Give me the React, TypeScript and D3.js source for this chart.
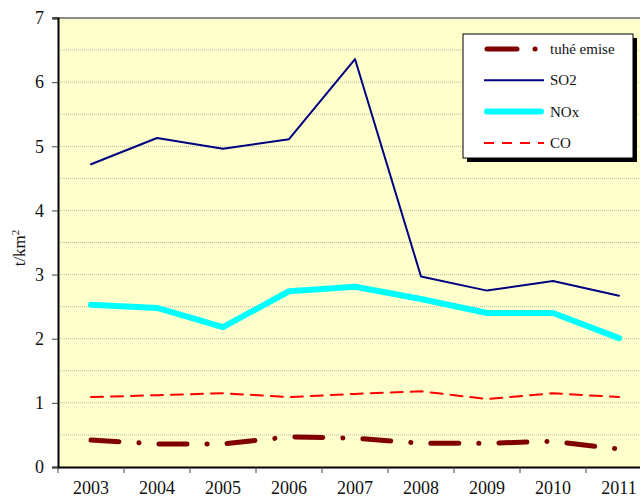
import * as d3 from 'd3';
import { useRef, useEffect } from 'react';

const years = ['2003', '2004', '2005', '2006', '2007', '2008', '2009', '2010', '2011'];
const tuhe = [0.42, 0.36, 0.36, 0.47, 0.45, 0.37, 0.37, 0.4, 0.28];
const so2 = [4.72, 5.13, 4.96, 5.11, 6.36, 2.97, 2.75, 2.9, 2.67];
const nox = [2.53, 2.48, 2.18, 2.74, 2.81, 2.62, 2.4, 2.4, 2.01];
const co = [1.09, 1.12, 1.15, 1.09, 1.14, 1.18, 1.06, 1.15, 1.09];
const yTicks = [0, 1, 2, 3, 4, 5, 6, 7];

const series = [
  { name: 'tuhé emise', values: tuhe, color: '#800000', width: 5, dash: '28 20 0.1 20' },
  { name: 'SO2', values: so2, color: '#000080', width: 2, dash: null },
  { name: 'NOx', values: nox, color: '#00FFFF', width: 6, dash: null },
  { name: 'CO', values: co, color: '#FF0000', width: 2, dash: '12 8' },
];

export default function App() {
  const svgRef = useRef(null);

  useEffect(() => {
    const width = 640;
    const height = 498;
    const left = 58, top = 18, bottom = 467;
    const right = left + 9 * 66;

    const svg = d3.select(svgRef.current)
      .attr('width', width)
      .attr('height', height);
    svg.selectAll('*').remove();

    const x = d3.scaleBand().domain(years).range([left, right]);
    const y = d3.scaleLinear().domain([0, 7]).range([bottom, top]);

    svg.append('rect')
      .attr('x', left).attr('y', top)
      .attr('width', right - left).attr('height', bottom - top)
      .attr('fill', '#FFFFCC');

    // gridlines every 0.5
    svg.append('g')
      .selectAll('line')
      .data(d3.range(0.5, 7, 0.5))
      .enter().append('line')
      .attr('x1', left).attr('x2', right)
      .attr('y1', (d) => y(d)).attr('y2', (d) => y(d))
      .attr('stroke', '#b8b8a8')
      .attr('stroke-width', 1)
      .attr('stroke-dasharray', '1 1');

    // top border
    svg.append('line')
      .attr('x1', left - 5).attr('x2', right)
      .attr('y1', top).attr('y2', top)
      .attr('stroke', '#8c8c8c').attr('stroke-width', 2);

    // y axis
    const yAxis = svg.append('g')
      .attr('transform', `translate(${left},0)`)
      .call(d3.axisLeft(y).tickValues(yTicks).tickSize(6).tickPadding(8).tickFormat(d3.format('d')));
    yAxis.select('.domain').attr('stroke', '#000').attr('stroke-width', 2);
    yAxis.selectAll('.tick line').attr('stroke', '#444');
    yAxis.selectAll('text')
      .attr('font-family', '"Liberation Serif", serif')
      .attr('font-size', 18)
      .attr('fill', '#111');

    // x axis
    const xAxis = svg.append('g')
      .attr('transform', `translate(0,${bottom})`)
      .call(d3.axisBottom(x).tickSize(0).tickPadding(14));
    xAxis.select('.domain').attr('stroke', '#000').attr('stroke-width', 2);
    xAxis.selectAll('text')
      .attr('font-family', '"Liberation Serif", serif')
      .attr('font-size', 18)
      .attr('fill', '#111');
    // tick marks between categories
    xAxis.selectAll('line.sep')
      .data(d3.range(0, 10))
      .enter().append('line')
      .attr('class', 'sep')
      .attr('x1', (i) => left + i * x.step())
      .attr('x2', (i) => left + i * x.step())
      .attr('y1', 0).attr('y2', 6)
      .attr('stroke', '#444');

    // y title
    svg.append('text')
      .attr('transform', 'translate(25,248) rotate(-90)')
      .attr('text-anchor', 'middle')
      .attr('font-family', '"Liberation Serif", serif')
      .attr('font-size', 17)
      .attr('fill', '#111')
      .html('t/km<tspan dy="-6" font-size="11">2</tspan>');

    const line = d3.line()
      .x((_, i) => x(years[i]) + x.bandwidth() / 2)
      .y((d) => y(d));

    // draw order: CO, NOx, SO2, tuhé on top
    const order = [series[3], series[2], series[1], series[0]];
    svg.append('g')
      .selectAll('path')
      .data(order)
      .enter().append('path')
      .attr('d', (d) => line(d.values))
      .attr('fill', 'none')
      .attr('stroke', (d) => d.color)
      .attr('stroke-width', (d) => d.width)
      .attr('stroke-linecap', 'round')
      .attr('stroke-linejoin', 'round')
      .attr('stroke-dasharray', (d) => d.dash);

    // legend
    const lg = svg.append('g');
    const lx = 463, ly = 34, lw = 170, lh = 124;
    lg.append('rect')
      .attr('x', lx + 4).attr('y', ly + 4)
      .attr('width', lw).attr('height', lh)
      .attr('fill', '#000');
    lg.append('rect')
      .attr('x', lx).attr('y', ly)
      .attr('width', lw).attr('height', lh)
      .attr('fill', '#fff')
      .attr('stroke', '#000').attr('stroke-width', 1);

    const rows = lg.selectAll('g.row')
      .data(series)
      .enter().append('g')
      .attr('class', 'row')
      .attr('transform', (_, i) => `translate(0,${49 + i * 31.3})`);
    rows.append('line')
      .attr('x1', (d) => (d.width > 3 ? 487 : 484))
      .attr('x2', (d) => (d.width > 3 ? 541 : 544))
      .attr('y1', 0).attr('y2', 0)
      .attr('stroke', (d) => d.color)
      .attr('stroke-width', (d) => d.width)
      .attr('stroke-linecap', (d) => (d.width > 3 ? 'round' : 'butt'))
      .attr('stroke-dasharray', (d) => (d.name === 'CO' ? '10 8' : d.dash ? '30 18 0.1 40' : null));
    rows.append('text')
      .attr('x', 550).attr('y', 5)
      .attr('font-family', '"Liberation Serif", serif')
      .attr('font-size', 15)
      .attr('fill', '#111')
      .text((d) => d.name);
  }, []);

  return (
    <div style={{ position: 'absolute', left: 0, top: 0 }}>
      <svg ref={svgRef} style={{ display: 'block' }}></svg>
    </div>
  );
}
